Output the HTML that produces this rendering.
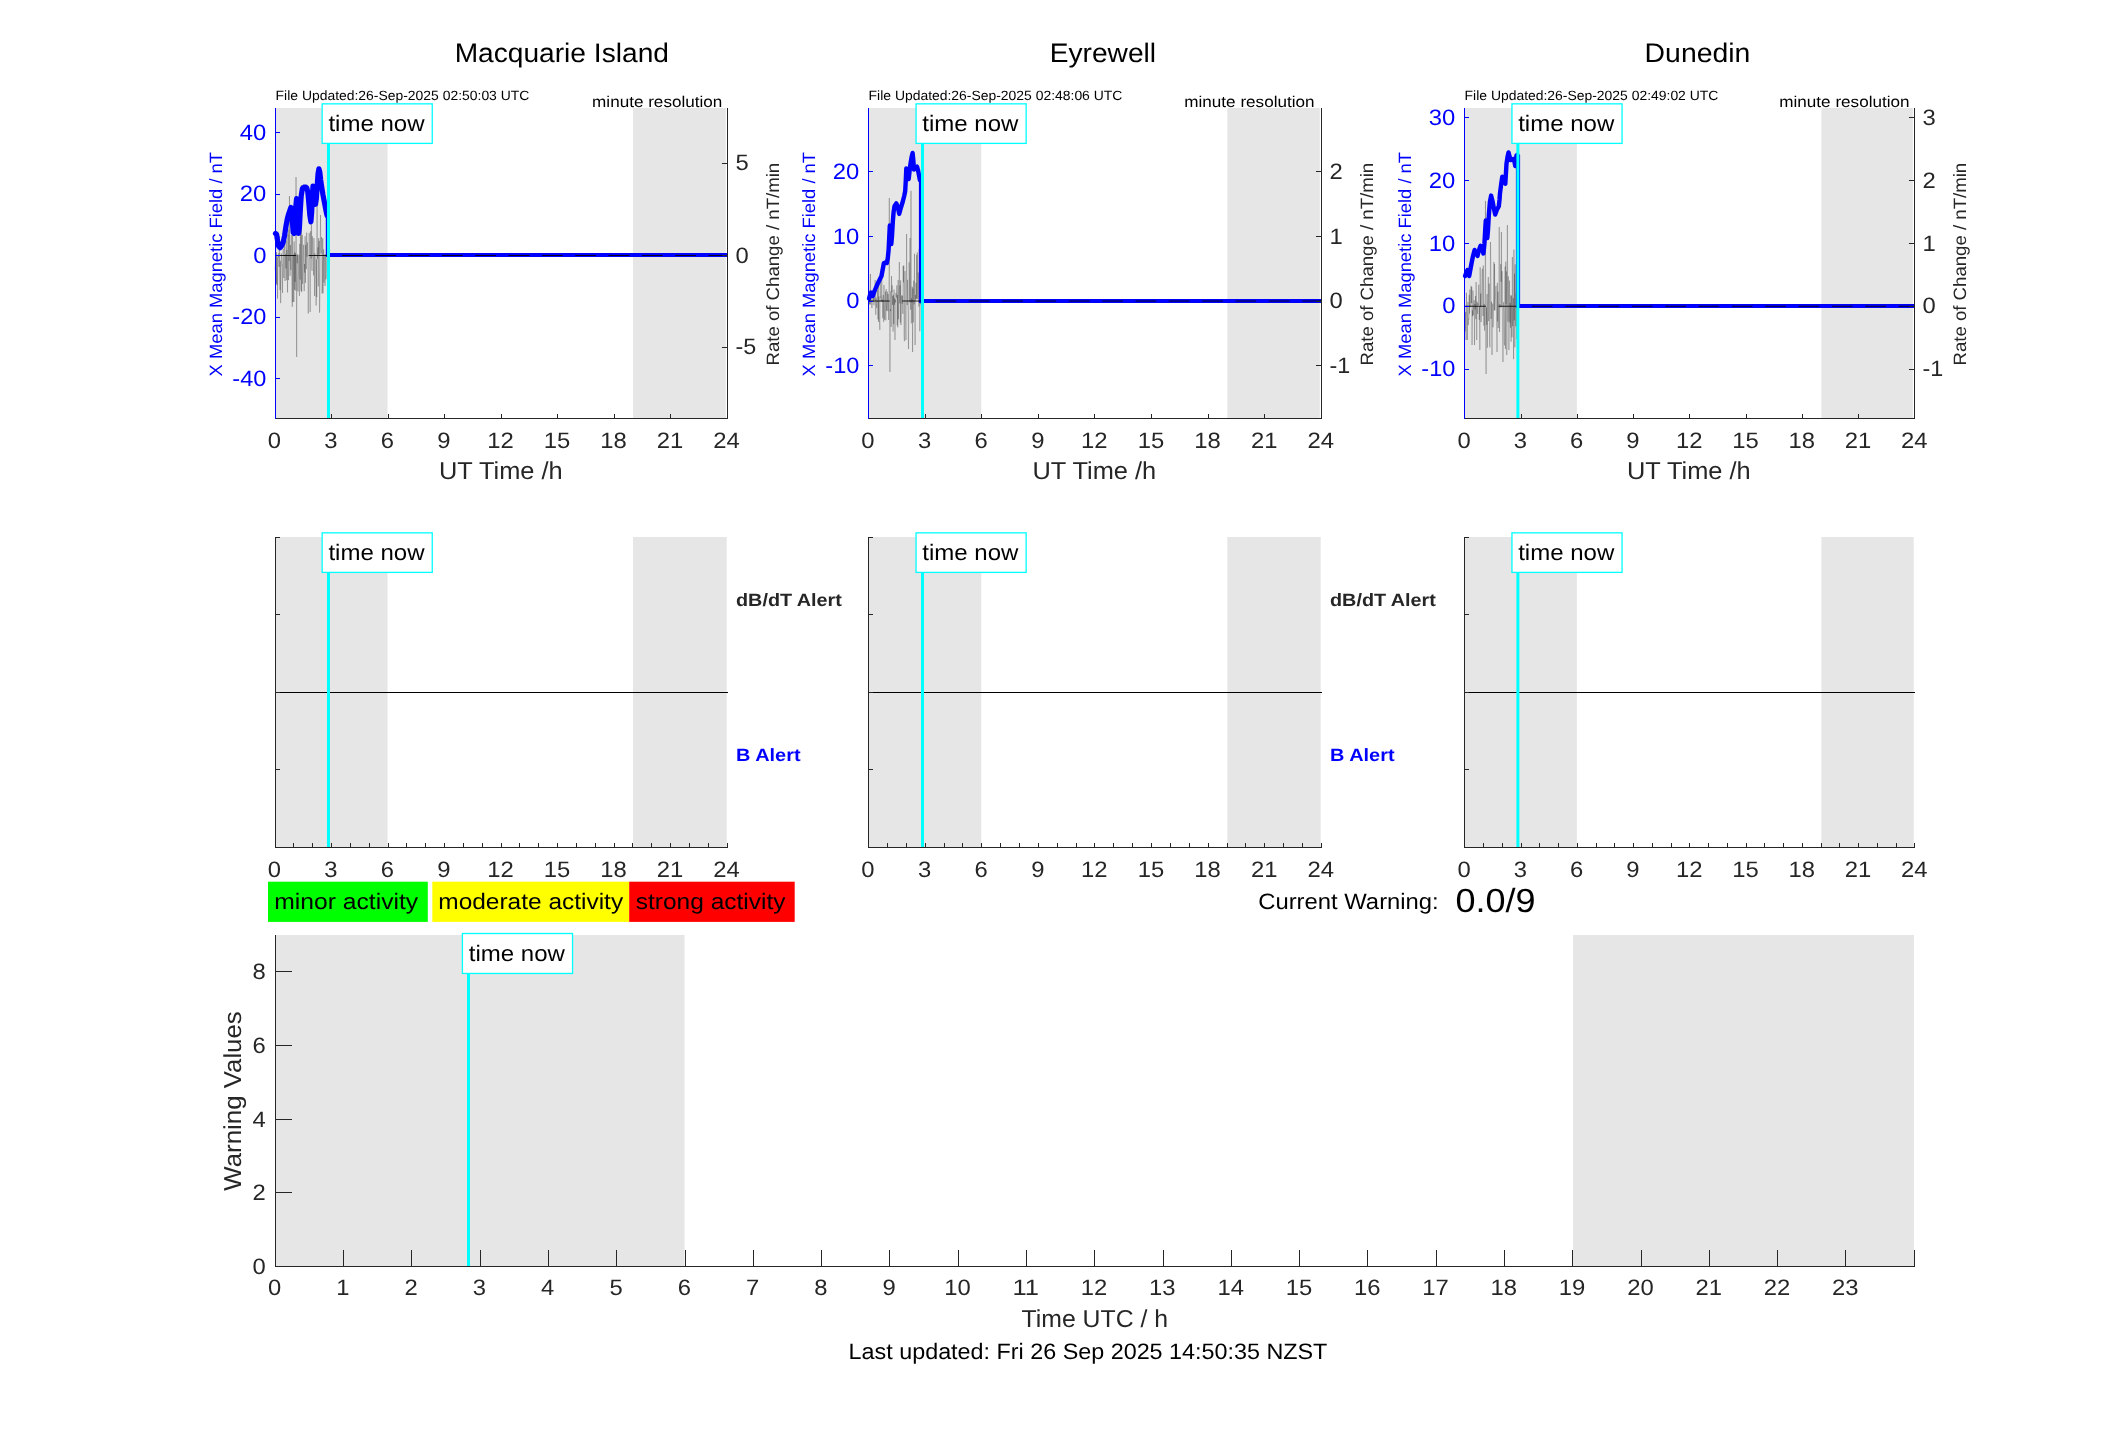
<!DOCTYPE html>
<html><head><meta charset="utf-8"><title>Magnetometer warning plots</title>
<style>html,body{margin:0;padding:0;background:#fff;}body{width:2117px;height:1437px;overflow:hidden;}svg{display:block;will-change:transform;font-family:"Liberation Sans",sans-serif;}text{white-space:pre;text-rendering:geometricPrecision;}</style></head>
<body>
<svg width="2117" height="1437" viewBox="0 0 2117 1437">
<rect x="0" y="0" width="2117" height="1437" fill="#ffffff"/>
<rect x="276.00" y="108.00" width="111.50" height="310.00" fill="#e6e6e6"/>
<rect x="633.08" y="108.00" width="92.72" height="310.00" fill="#e6e6e6"/>
<polyline points="275.00,270.50 275.31,266.38 275.63,245.39 275.94,268.37 276.26,283.77 276.57,252.15 276.88,285.10 277.20,256.67 277.51,298.50 277.82,273.84 278.14,254.84 278.45,256.81 278.77,253.10 279.08,267.02 279.39,236.08 279.71,276.16 280.02,290.00 280.34,260.74 280.65,303.15 280.96,281.22 281.28,253.26 281.59,257.02 281.91,265.27 282.22,264.80 282.53,292.94 282.85,253.51 283.16,248.66 283.48,250.35 283.79,278.06 284.10,261.08 284.42,251.64 284.73,239.49 285.04,281.00 285.36,254.73 285.67,253.87 285.99,268.42 286.30,240.48 286.61,280.11 286.93,249.83 287.24,261.32 287.56,292.47 287.87,234.24 288.18,266.06 288.50,280.07 288.81,229.38 289.12,260.95 289.44,196.00 289.75,254.67 290.07,275.88 290.38,244.96 290.69,268.51 291.01,269.97 291.32,235.05 291.64,258.27 291.95,291.75 292.26,306.80 292.58,231.71 292.89,302.13 293.21,275.73 293.52,254.50 293.83,302.00 294.15,241.48 294.46,289.73 294.77,252.32 295.09,281.79 295.40,253.28 295.72,290.58 296.03,177.00 296.34,253.58 296.66,357.00 296.97,254.72 297.29,263.21 297.60,254.30 297.91,291.40 298.23,275.97 298.54,272.01 298.86,254.81 299.17,292.04 299.48,295.89 299.80,243.84 300.11,279.72 300.43,228.88 300.74,269.86 301.05,290.96 301.37,185.00 301.68,292.17 301.99,242.17 302.31,234.85 302.62,283.84 302.94,271.44 303.25,263.51 303.56,244.72 303.88,274.00 304.19,291.12 304.51,263.97 304.82,272.57 305.13,236.25 305.45,283.03 305.76,244.96 306.07,259.51 306.39,269.10 306.70,232.64 307.02,256.70 307.33,242.42 307.64,258.39 307.96,279.06 308.27,313.50 308.59,279.87 308.90,249.60 309.21,232.92 309.53,250.62 309.84,262.60 310.16,312.00 310.47,235.81 310.78,231.26 311.10,258.63 311.41,192.00 311.73,266.83 312.04,270.86 312.35,236.22 312.67,249.09 312.98,256.92 313.29,256.98 313.61,275.45 313.92,238.18 314.24,258.06 314.55,296.00 314.86,253.16 315.18,257.00 315.49,268.36 315.81,280.62 316.12,305.61 316.43,259.27 316.75,297.00 317.06,203.00 317.38,258.76 317.69,251.39 318.00,247.33 318.32,286.41 318.63,238.16 318.94,254.60 319.26,240.83 319.57,312.70 319.89,296.99 320.20,245.95 320.51,215.00 320.83,248.81 321.14,253.57 321.46,237.09 321.77,241.01 322.08,293.54 322.40,285.00 322.71,238.20 323.02,293.36 323.34,262.48 323.65,249.36 323.97,282.67 324.28,254.82 324.59,254.71 324.91,286.00 325.22,283.43 325.54,254.15 325.85,279.30 326.16,277.27 326.48,267.49 326.79,256.95 327.11,247.16 327.42,279.67" fill="none" stroke="#000" stroke-opacity="0.42" stroke-width="0.5" stroke-linejoin="round"/>
<polyline points="275.50,233.50 276.60,234.50 277.60,241.00 278.60,246.00 280.00,247.70 281.60,246.00 283.00,243.00 284.50,236.00 286.00,226.00 287.30,219.00 288.60,214.00 289.80,210.50 290.90,207.50 291.60,210.00 292.40,222.00 293.20,232.50 294.00,233.50 294.80,222.00 295.60,208.00 296.60,198.50 297.40,206.00 298.00,222.00 298.60,233.50 299.40,228.00 300.20,212.00 301.20,196.00 302.40,188.50 304.00,187.20 305.60,187.00 306.80,187.80 307.80,192.00 308.80,203.00 309.80,215.00 310.90,221.80 311.70,212.00 312.40,196.00 313.00,186.00 313.80,190.00 314.60,199.00 315.50,204.30 316.30,199.00 317.20,186.00 318.00,174.00 318.90,168.80 319.80,172.00 320.70,180.00 321.80,187.60 323.00,195.00 324.30,201.80 325.40,207.50 326.40,212.70 327.10,215.50" fill="none" stroke="#0000ff" stroke-width="5.2" stroke-linejoin="round" stroke-linecap="round"/>
<rect x="325.80" y="215.50" width="4.20" height="41.50" fill="#0000ff"/>
<rect x="325.80" y="253.00" width="401.70" height="4.00" fill="#0000ff" shape-rendering="crispEdges"/>
<line x1="275.30" y1="255.40" x2="727.00" y2="255.40" stroke="#000" stroke-opacity="0.85" stroke-width="1.05" stroke-dasharray="20.83 12.5"/>
<rect x="275.00" y="418.00" width="453.00" height="1.00" fill="#262626" shape-rendering="crispEdges"/>
<rect x="727.00" y="108.00" width="1.00" height="311.00" fill="#262626" shape-rendering="crispEdges"/>
<rect x="275.00" y="414.00" width="1.00" height="4.00" fill="#262626" shape-rendering="crispEdges"/>
<text x="267.77" y="448.20" font-size="22.29" textLength="13.25" lengthAdjust="spacingAndGlyphs" fill="#262626">0</text>
<rect x="331.00" y="414.00" width="1.00" height="4.00" fill="#262626" shape-rendering="crispEdges"/>
<text x="324.27" y="448.20" font-size="22.29" textLength="13.25" lengthAdjust="spacingAndGlyphs" fill="#262626">3</text>
<rect x="388.00" y="414.00" width="1.00" height="4.00" fill="#262626" shape-rendering="crispEdges"/>
<text x="380.77" y="448.20" font-size="22.29" textLength="13.25" lengthAdjust="spacingAndGlyphs" fill="#262626">6</text>
<rect x="444.00" y="414.00" width="1.00" height="4.00" fill="#262626" shape-rendering="crispEdges"/>
<text x="437.27" y="448.20" font-size="22.29" textLength="13.25" lengthAdjust="spacingAndGlyphs" fill="#262626">9</text>
<rect x="501.00" y="414.00" width="1.00" height="4.00" fill="#262626" shape-rendering="crispEdges"/>
<text x="487.15" y="448.20" font-size="22.29" textLength="26.51" lengthAdjust="spacingAndGlyphs" fill="#262626">12</text>
<rect x="557.00" y="414.00" width="1.00" height="4.00" fill="#262626" shape-rendering="crispEdges"/>
<text x="543.65" y="448.20" font-size="22.29" textLength="26.51" lengthAdjust="spacingAndGlyphs" fill="#262626">15</text>
<rect x="614.00" y="414.00" width="1.00" height="4.00" fill="#262626" shape-rendering="crispEdges"/>
<text x="600.15" y="448.20" font-size="22.29" textLength="26.51" lengthAdjust="spacingAndGlyphs" fill="#262626">18</text>
<rect x="670.00" y="414.00" width="1.00" height="4.00" fill="#262626" shape-rendering="crispEdges"/>
<text x="656.65" y="448.20" font-size="22.29" textLength="26.51" lengthAdjust="spacingAndGlyphs" fill="#262626">21</text>
<rect x="727.00" y="414.00" width="1.00" height="4.00" fill="#262626" shape-rendering="crispEdges"/>
<text x="713.15" y="448.20" font-size="22.29" textLength="26.51" lengthAdjust="spacingAndGlyphs" fill="#262626">24</text>
<rect x="275.00" y="108.00" width="1.00" height="311.00" fill="#0000ff" shape-rendering="crispEdges"/>
<rect x="276.00" y="132.00" width="4.00" height="1.00" fill="#0000ff"/>
<text x="239.89" y="139.60" font-size="22.29" textLength="26.51" lengthAdjust="spacingAndGlyphs" fill="#0000ff">40</text>
<rect x="276.00" y="194.00" width="4.00" height="1.00" fill="#0000ff"/>
<text x="239.89" y="201.10" font-size="22.29" textLength="26.51" lengthAdjust="spacingAndGlyphs" fill="#0000ff">20</text>
<rect x="276.00" y="255.00" width="4.00" height="1.00" fill="#0000ff"/>
<text x="253.15" y="262.60" font-size="22.29" textLength="13.25" lengthAdjust="spacingAndGlyphs" fill="#0000ff">0</text>
<rect x="276.00" y="317.00" width="4.00" height="1.00" fill="#0000ff"/>
<text x="232.37" y="324.10" font-size="22.29" textLength="34.03" lengthAdjust="spacingAndGlyphs" fill="#0000ff">-20</text>
<rect x="276.00" y="378.00" width="4.00" height="1.00" fill="#0000ff"/>
<text x="232.37" y="385.60" font-size="22.29" textLength="34.03" lengthAdjust="spacingAndGlyphs" fill="#0000ff">-40</text>
<rect x="722.00" y="163.00" width="5.00" height="1.00" fill="#262626" shape-rendering="crispEdges"/>
<text x="735.40" y="169.70" font-size="22.29" textLength="13.25" lengthAdjust="spacingAndGlyphs" fill="#262626">5</text>
<rect x="722.00" y="255.00" width="5.00" height="1.00" fill="#262626" shape-rendering="crispEdges"/>
<text x="735.40" y="262.80" font-size="22.29" textLength="13.25" lengthAdjust="spacingAndGlyphs" fill="#262626">0</text>
<rect x="722.00" y="347.00" width="5.00" height="1.00" fill="#262626" shape-rendering="crispEdges"/>
<text x="735.40" y="354.20" font-size="22.29" textLength="20.77" lengthAdjust="spacingAndGlyphs" fill="#262626">-5</text>
<rect x="326.97" y="138.00" width="3.00" height="280.00" fill="#00ffff"/>
<rect x="322.15" y="103.85" width="110.1" height="39.55" fill="#fff" stroke="#00ffff" stroke-width="1.3"/>
<text x="328.40" y="130.60" font-size="22.29" textLength="96.10" lengthAdjust="spacingAndGlyphs" fill="#000">time now</text>
<text x="438.96" y="479.00" font-size="24.52" textLength="123.67" lengthAdjust="spacingAndGlyphs" fill="#262626">UT Time /h</text>
<text transform="translate(222.00,264.20) rotate(-90)" x="-112.23" y="0" font-size="17.83" textLength="224.46" lengthAdjust="spacingAndGlyphs" fill="#0000ff">X Mean Magnetic Field / nT</text>
<text transform="translate(779.10,264.20) rotate(-90)" x="-101.34" y="0" font-size="17.83" textLength="202.69" lengthAdjust="spacingAndGlyphs" fill="#262626">Rate of Change / nT/min</text>
<text x="275.60" y="100.00" font-size="13.38" textLength="253.74" lengthAdjust="spacingAndGlyphs" fill="#000">File Updated:26-Sep-2025 02:50:03 UTC</text>
<text x="592.10" y="106.80" font-size="15.60" textLength="130.26" lengthAdjust="spacingAndGlyphs" fill="#000">minute resolution</text>
<text x="454.65" y="62.00" font-size="26.75" textLength="214.30" lengthAdjust="spacingAndGlyphs" fill="#000">Macquarie Island</text>
<rect x="869.00" y="108.00" width="112.27" height="310.00" fill="#e6e6e6"/>
<rect x="1227.33" y="108.00" width="92.47" height="310.00" fill="#e6e6e6"/>
<polyline points="868.55,287.99 868.86,300.52 869.18,304.19 869.49,300.33 869.81,304.57 870.12,297.22 870.44,274.00 870.75,304.42 871.07,291.78 871.38,301.47 871.69,307.39 872.01,308.11 872.32,303.87 872.64,303.98 872.95,292.72 873.27,301.60 873.58,291.11 873.90,305.35 874.21,302.17 874.53,298.38 874.84,299.69 875.15,280.00 875.47,298.87 875.78,314.79 876.10,297.55 876.41,303.57 876.73,307.92 877.04,300.20 877.36,289.86 877.67,299.12 877.98,319.40 878.30,281.38 878.61,322.00 878.93,296.35 879.24,316.23 879.56,322.63 879.87,330.00 880.19,278.30 880.50,297.38 880.82,296.80 881.13,301.76 881.44,299.34 881.76,278.80 882.07,301.92 882.39,299.56 882.70,318.14 883.02,295.59 883.33,295.02 883.65,321.93 883.96,285.00 884.27,306.42 884.59,319.82 884.90,303.37 885.22,295.50 885.53,291.58 885.85,320.36 886.16,289.03 886.48,310.74 886.79,303.64 887.11,301.92 887.42,291.56 887.73,311.12 888.05,294.06 888.36,300.28 888.68,320.02 888.99,278.01 889.31,198.00 889.62,293.78 889.94,372.00 890.25,309.22 890.56,311.14 890.88,291.21 891.19,326.92 891.51,276.06 891.82,291.91 892.14,285.35 892.45,304.85 892.77,295.87 893.08,331.58 893.40,294.83 893.71,324.04 894.02,289.47 894.34,304.74 894.65,298.33 894.97,340.00 895.28,299.64 895.60,302.47 895.91,292.87 896.23,297.48 896.54,297.68 896.85,285.39 897.17,325.33 897.48,294.96 897.80,327.38 898.11,279.91 898.43,319.26 898.74,299.80 899.06,283.70 899.37,262.00 899.69,303.39 900.00,285.43 900.31,322.70 900.63,280.39 900.94,325.14 901.26,316.59 901.57,295.44 901.89,302.39 902.20,303.91 902.52,295.61 902.83,313.93 903.14,266.00 903.46,282.34 903.77,265.36 904.09,334.12 904.40,341.27 904.72,293.48 905.03,271.08 905.35,309.11 905.66,326.59 905.98,340.00 906.29,302.24 906.60,234.00 906.92,284.39 907.23,305.04 907.55,279.82 907.86,303.62 908.18,317.28 908.49,349.00 908.81,310.83 909.12,262.35 909.43,279.71 909.75,302.35 910.06,238.00 910.38,299.68 910.69,309.72 911.01,190.80 911.32,323.42 911.64,298.29 911.95,302.40 912.27,286.70 912.58,352.00 912.89,288.51 913.21,322.45 913.52,280.68 913.84,281.41 914.15,304.39 914.47,253.73 914.78,306.64 915.10,345.00 915.41,294.98 915.72,299.74 916.04,282.86 916.35,298.37 916.67,254.92 916.98,298.97 917.30,252.43 917.61,280.00 917.93,299.30 918.24,272.48 918.56,278.36 918.87,306.61 919.18,248.88 919.50,259.46 919.81,331.29 920.13,302.65 920.44,304.25 920.76,299.42 921.07,298.37" fill="none" stroke="#000" stroke-opacity="0.42" stroke-width="0.5" stroke-linejoin="round"/>
<polyline points="869.10,298.40 870.00,295.00 870.90,292.50 871.80,295.50 872.80,296.00 874.50,291.00 877.40,284.30 879.50,280.00 881.50,276.00 882.60,270.00 883.90,263.00 885.30,262.50 886.80,263.00 887.80,258.00 888.60,250.00 889.20,238.00 889.80,225.50 890.60,232.00 891.30,244.00 892.00,236.00 892.80,222.00 893.60,212.00 894.50,206.20 896.30,203.30 897.80,207.00 899.20,213.90 900.80,208.00 902.80,201.50 904.20,196.00 905.20,191.00 905.80,180.00 906.30,168.40 907.40,173.00 908.70,179.00 909.60,171.00 910.50,163.60 911.60,157.00 912.60,153.00 913.30,160.00 914.00,169.60 915.40,168.00 917.00,166.60 918.00,170.00 918.80,174.30 919.90,180.20" fill="none" stroke="#0000ff" stroke-width="4.4" stroke-linejoin="round" stroke-linecap="round"/>
<rect x="918.90" y="180.20" width="4.20" height="122.80" fill="#0000ff"/>
<rect x="918.90" y="299.00" width="402.60" height="4.00" fill="#0000ff" shape-rendering="crispEdges"/>
<line x1="868.85" y1="301.00" x2="1321.00" y2="301.00" stroke="#000" stroke-opacity="0.85" stroke-width="1.05" stroke-dasharray="20.83 12.5"/>
<rect x="868.00" y="418.00" width="454.00" height="1.00" fill="#262626" shape-rendering="crispEdges"/>
<rect x="1321.00" y="108.00" width="1.00" height="311.00" fill="#262626" shape-rendering="crispEdges"/>
<rect x="868.00" y="414.00" width="1.00" height="4.00" fill="#262626" shape-rendering="crispEdges"/>
<text x="861.32" y="448.20" font-size="22.29" textLength="13.25" lengthAdjust="spacingAndGlyphs" fill="#262626">0</text>
<rect x="925.00" y="414.00" width="1.00" height="4.00" fill="#262626" shape-rendering="crispEdges"/>
<text x="917.93" y="448.20" font-size="22.29" textLength="13.25" lengthAdjust="spacingAndGlyphs" fill="#262626">3</text>
<rect x="981.00" y="414.00" width="1.00" height="4.00" fill="#262626" shape-rendering="crispEdges"/>
<text x="974.54" y="448.20" font-size="22.29" textLength="13.25" lengthAdjust="spacingAndGlyphs" fill="#262626">6</text>
<rect x="1038.00" y="414.00" width="1.00" height="4.00" fill="#262626" shape-rendering="crispEdges"/>
<text x="1031.15" y="448.20" font-size="22.29" textLength="13.25" lengthAdjust="spacingAndGlyphs" fill="#262626">9</text>
<rect x="1094.00" y="414.00" width="1.00" height="4.00" fill="#262626" shape-rendering="crispEdges"/>
<text x="1081.14" y="448.20" font-size="22.29" textLength="26.51" lengthAdjust="spacingAndGlyphs" fill="#262626">12</text>
<rect x="1151.00" y="414.00" width="1.00" height="4.00" fill="#262626" shape-rendering="crispEdges"/>
<text x="1137.75" y="448.20" font-size="22.29" textLength="26.51" lengthAdjust="spacingAndGlyphs" fill="#262626">15</text>
<rect x="1208.00" y="414.00" width="1.00" height="4.00" fill="#262626" shape-rendering="crispEdges"/>
<text x="1194.36" y="448.20" font-size="22.29" textLength="26.51" lengthAdjust="spacingAndGlyphs" fill="#262626">18</text>
<rect x="1264.00" y="414.00" width="1.00" height="4.00" fill="#262626" shape-rendering="crispEdges"/>
<text x="1250.97" y="448.20" font-size="22.29" textLength="26.51" lengthAdjust="spacingAndGlyphs" fill="#262626">21</text>
<rect x="1321.00" y="414.00" width="1.00" height="4.00" fill="#262626" shape-rendering="crispEdges"/>
<text x="1307.58" y="448.20" font-size="22.29" textLength="26.51" lengthAdjust="spacingAndGlyphs" fill="#262626">24</text>
<rect x="868.00" y="108.00" width="1.00" height="311.00" fill="#0000ff" shape-rendering="crispEdges"/>
<rect x="869.00" y="171.00" width="4.00" height="1.00" fill="#0000ff"/>
<text x="832.89" y="178.90" font-size="22.29" textLength="26.51" lengthAdjust="spacingAndGlyphs" fill="#0000ff">20</text>
<rect x="869.00" y="236.00" width="4.00" height="1.00" fill="#0000ff"/>
<text x="832.89" y="243.50" font-size="22.29" textLength="26.51" lengthAdjust="spacingAndGlyphs" fill="#0000ff">10</text>
<rect x="869.00" y="301.00" width="4.00" height="1.00" fill="#0000ff"/>
<text x="846.15" y="308.10" font-size="22.29" textLength="13.25" lengthAdjust="spacingAndGlyphs" fill="#0000ff">0</text>
<rect x="869.00" y="365.00" width="4.00" height="1.00" fill="#0000ff"/>
<text x="825.37" y="372.70" font-size="22.29" textLength="34.03" lengthAdjust="spacingAndGlyphs" fill="#0000ff">-10</text>
<rect x="1316.00" y="171.00" width="5.00" height="1.00" fill="#262626" shape-rendering="crispEdges"/>
<text x="1329.40" y="178.90" font-size="22.29" textLength="13.25" lengthAdjust="spacingAndGlyphs" fill="#262626">2</text>
<rect x="1316.00" y="236.00" width="5.00" height="1.00" fill="#262626" shape-rendering="crispEdges"/>
<text x="1329.40" y="243.50" font-size="22.29" textLength="13.25" lengthAdjust="spacingAndGlyphs" fill="#262626">1</text>
<rect x="1316.00" y="301.00" width="5.00" height="1.00" fill="#262626" shape-rendering="crispEdges"/>
<text x="1329.40" y="308.10" font-size="22.29" textLength="13.25" lengthAdjust="spacingAndGlyphs" fill="#262626">0</text>
<rect x="1316.00" y="365.00" width="5.00" height="1.00" fill="#262626" shape-rendering="crispEdges"/>
<text x="1329.40" y="372.70" font-size="22.29" textLength="20.77" lengthAdjust="spacingAndGlyphs" fill="#262626">-1</text>
<rect x="921.00" y="138.00" width="3.00" height="280.00" fill="#00ffff"/>
<rect x="916.05" y="103.85" width="110.1" height="39.55" fill="#fff" stroke="#00ffff" stroke-width="1.3"/>
<text x="922.30" y="130.60" font-size="22.29" textLength="96.10" lengthAdjust="spacingAndGlyphs" fill="#000">time now</text>
<text x="1032.46" y="479.00" font-size="24.52" textLength="123.67" lengthAdjust="spacingAndGlyphs" fill="#262626">UT Time /h</text>
<text transform="translate(815.00,264.20) rotate(-90)" x="-112.23" y="0" font-size="17.83" textLength="224.46" lengthAdjust="spacingAndGlyphs" fill="#0000ff">X Mean Magnetic Field / nT</text>
<text transform="translate(1373.10,264.20) rotate(-90)" x="-101.34" y="0" font-size="17.83" textLength="202.69" lengthAdjust="spacingAndGlyphs" fill="#262626">Rate of Change / nT/min</text>
<text x="868.60" y="100.00" font-size="13.38" textLength="253.74" lengthAdjust="spacingAndGlyphs" fill="#000">File Updated:26-Sep-2025 02:48:06 UTC</text>
<text x="1184.30" y="106.80" font-size="15.60" textLength="130.26" lengthAdjust="spacingAndGlyphs" fill="#000">minute resolution</text>
<text x="1049.77" y="62.00" font-size="26.75" textLength="106.26" lengthAdjust="spacingAndGlyphs" fill="#000">Eyrewell</text>
<rect x="1465.00" y="108.00" width="111.85" height="310.00" fill="#e6e6e6"/>
<rect x="1821.35" y="108.00" width="91.45" height="310.00" fill="#e6e6e6"/>
<polyline points="1464.85,304.86 1465.16,331.47 1465.47,316.57 1465.79,312.04 1466.10,340.00 1466.41,292.71 1466.72,312.37 1467.04,314.34 1467.35,340.05 1467.66,307.25 1467.97,301.98 1468.29,325.14 1468.60,318.83 1468.91,319.30 1469.22,294.99 1469.54,313.73 1469.85,289.58 1470.16,304.91 1470.47,306.94 1470.79,304.05 1471.10,285.79 1471.41,303.15 1471.72,287.02 1472.04,345.00 1472.35,310.31 1472.66,316.24 1472.97,290.54 1473.29,315.15 1473.60,305.08 1473.91,304.71 1474.22,300.28 1474.54,345.04 1474.85,303.97 1475.16,309.62 1475.47,295.94 1475.79,319.11 1476.10,282.00 1476.41,297.40 1476.72,340.04 1477.04,301.67 1477.35,307.14 1477.66,313.95 1477.97,303.29 1478.29,304.91 1478.60,284.80 1478.91,284.89 1479.22,319.89 1479.54,307.10 1479.85,350.00 1480.16,267.33 1480.47,307.02 1480.79,293.50 1481.10,322.13 1481.41,299.93 1481.72,288.53 1482.04,273.40 1482.35,268.73 1482.66,294.40 1482.97,316.08 1483.29,265.52 1483.60,290.31 1483.91,325.66 1484.22,303.88 1484.54,330.55 1484.85,322.89 1485.16,280.81 1485.47,200.90 1485.79,345.61 1486.10,374.00 1486.41,307.41 1486.72,324.70 1487.04,294.12 1487.35,347.73 1487.66,304.90 1487.97,299.48 1488.29,276.97 1488.60,321.10 1488.91,309.76 1489.22,283.61 1489.54,337.65 1489.85,347.35 1490.16,323.06 1490.47,242.00 1490.79,261.03 1491.10,318.99 1491.41,301.64 1491.72,335.74 1492.04,355.00 1492.35,318.46 1492.66,303.52 1492.97,327.37 1493.29,323.08 1493.60,307.53 1493.91,262.00 1494.22,310.48 1494.54,264.09 1494.85,310.36 1495.16,300.38 1495.47,296.41 1495.79,286.73 1496.10,285.85 1496.41,307.43 1496.72,326.04 1497.04,352.00 1497.35,282.78 1497.66,321.59 1497.97,291.63 1498.29,328.05 1498.60,303.49 1498.91,301.19 1499.22,227.00 1499.54,331.96 1499.85,304.15 1500.16,307.47 1500.47,303.91 1500.79,264.11 1501.10,281.81 1501.41,232.00 1501.72,307.36 1502.04,271.08 1502.35,313.94 1502.66,329.71 1502.97,362.00 1503.29,308.82 1503.60,302.19 1503.91,314.22 1504.22,341.83 1504.54,345.37 1504.85,280.66 1505.16,266.47 1505.47,348.96 1505.79,261.55 1506.10,304.35 1506.41,271.39 1506.72,355.07 1507.04,341.47 1507.35,225.00 1507.66,284.75 1507.97,321.70 1508.29,276.40 1508.60,301.91 1508.91,350.00 1509.22,321.24 1509.54,280.58 1509.85,322.56 1510.16,302.92 1510.47,327.69 1510.79,295.25 1511.10,341.68 1511.41,295.60 1511.72,310.89 1512.04,337.23 1512.35,257.00 1512.66,326.04 1512.97,310.48 1513.29,298.06 1513.60,359.16 1513.91,249.62 1514.22,320.42 1514.54,273.66 1514.85,347.42 1515.16,264.37 1515.47,295.65 1515.79,326.43 1516.10,293.72 1516.41,296.80 1516.72,339.38 1517.04,299.94" fill="none" stroke="#000" stroke-opacity="0.42" stroke-width="0.5" stroke-linejoin="round"/>
<polyline points="1465.10,276.00 1466.30,272.50 1467.50,270.00 1468.40,273.00 1469.20,276.00 1470.30,270.00 1471.60,263.00 1473.00,256.00 1474.60,250.00 1476.00,252.50 1477.50,255.90 1479.00,250.00 1480.50,245.80 1482.00,249.00 1483.40,253.50 1484.40,244.00 1485.20,230.00 1485.80,220.40 1486.60,228.00 1487.30,238.00 1488.00,230.00 1488.90,214.00 1489.90,202.00 1491.10,195.60 1492.50,201.00 1493.90,208.50 1495.20,214.50 1496.80,210.00 1498.80,206.20 1499.50,200.00 1500.00,193.20 1501.20,184.00 1502.30,176.70 1503.80,180.00 1505.30,183.80 1505.90,174.00 1506.50,163.60 1507.50,157.00 1508.50,152.40 1509.50,156.00 1510.60,160.10 1512.00,159.30 1513.60,158.90 1514.50,162.00 1515.30,166.00 1515.90,160.00 1516.50,155.40 1517.20,154.80" fill="none" stroke="#0000ff" stroke-width="4.4" stroke-linejoin="round" stroke-linecap="round"/>
<rect x="1515.90" y="154.80" width="4.20" height="153.20" fill="#0000ff"/>
<rect x="1515.90" y="304.00" width="398.60" height="4.00" fill="#0000ff" shape-rendering="crispEdges"/>
<line x1="1465.15" y1="306.30" x2="1914.00" y2="306.30" stroke="#000" stroke-opacity="0.85" stroke-width="1.05" stroke-dasharray="20.83 12.5"/>
<rect x="1464.00" y="418.00" width="451.00" height="1.00" fill="#262626" shape-rendering="crispEdges"/>
<rect x="1914.00" y="108.00" width="1.00" height="311.00" fill="#262626" shape-rendering="crispEdges"/>
<rect x="1464.00" y="414.00" width="1.00" height="4.00" fill="#262626" shape-rendering="crispEdges"/>
<text x="1457.62" y="448.20" font-size="22.29" textLength="13.25" lengthAdjust="spacingAndGlyphs" fill="#262626">0</text>
<rect x="1521.00" y="414.00" width="1.00" height="4.00" fill="#262626" shape-rendering="crispEdges"/>
<text x="1513.87" y="448.20" font-size="22.29" textLength="13.25" lengthAdjust="spacingAndGlyphs" fill="#262626">3</text>
<rect x="1577.00" y="414.00" width="1.00" height="4.00" fill="#262626" shape-rendering="crispEdges"/>
<text x="1570.12" y="448.20" font-size="22.29" textLength="13.25" lengthAdjust="spacingAndGlyphs" fill="#262626">6</text>
<rect x="1633.00" y="414.00" width="1.00" height="4.00" fill="#262626" shape-rendering="crispEdges"/>
<text x="1626.37" y="448.20" font-size="22.29" textLength="13.25" lengthAdjust="spacingAndGlyphs" fill="#262626">9</text>
<rect x="1689.00" y="414.00" width="1.00" height="4.00" fill="#262626" shape-rendering="crispEdges"/>
<text x="1676.00" y="448.20" font-size="22.29" textLength="26.51" lengthAdjust="spacingAndGlyphs" fill="#262626">12</text>
<rect x="1746.00" y="414.00" width="1.00" height="4.00" fill="#262626" shape-rendering="crispEdges"/>
<text x="1732.25" y="448.20" font-size="22.29" textLength="26.51" lengthAdjust="spacingAndGlyphs" fill="#262626">15</text>
<rect x="1802.00" y="414.00" width="1.00" height="4.00" fill="#262626" shape-rendering="crispEdges"/>
<text x="1788.50" y="448.20" font-size="22.29" textLength="26.51" lengthAdjust="spacingAndGlyphs" fill="#262626">18</text>
<rect x="1858.00" y="414.00" width="1.00" height="4.00" fill="#262626" shape-rendering="crispEdges"/>
<text x="1844.75" y="448.20" font-size="22.29" textLength="26.51" lengthAdjust="spacingAndGlyphs" fill="#262626">21</text>
<rect x="1914.00" y="414.00" width="1.00" height="4.00" fill="#262626" shape-rendering="crispEdges"/>
<text x="1901.00" y="448.20" font-size="22.29" textLength="26.51" lengthAdjust="spacingAndGlyphs" fill="#262626">24</text>
<rect x="1464.00" y="108.00" width="1.00" height="311.00" fill="#0000ff" shape-rendering="crispEdges"/>
<rect x="1465.00" y="117.00" width="4.00" height="1.00" fill="#0000ff"/>
<text x="1428.89" y="124.60" font-size="22.29" textLength="26.51" lengthAdjust="spacingAndGlyphs" fill="#0000ff">30</text>
<rect x="1465.00" y="180.00" width="4.00" height="1.00" fill="#0000ff"/>
<text x="1428.89" y="187.60" font-size="22.29" textLength="26.51" lengthAdjust="spacingAndGlyphs" fill="#0000ff">20</text>
<rect x="1465.00" y="243.00" width="4.00" height="1.00" fill="#0000ff"/>
<text x="1428.89" y="250.60" font-size="22.29" textLength="26.51" lengthAdjust="spacingAndGlyphs" fill="#0000ff">10</text>
<rect x="1465.00" y="306.00" width="4.00" height="1.00" fill="#0000ff"/>
<text x="1442.15" y="313.10" font-size="22.29" textLength="13.25" lengthAdjust="spacingAndGlyphs" fill="#0000ff">0</text>
<rect x="1465.00" y="369.00" width="4.00" height="1.00" fill="#0000ff"/>
<text x="1421.37" y="376.10" font-size="22.29" textLength="34.03" lengthAdjust="spacingAndGlyphs" fill="#0000ff">-10</text>
<rect x="1909.00" y="117.00" width="5.00" height="1.00" fill="#262626" shape-rendering="crispEdges"/>
<text x="1922.40" y="124.60" font-size="22.29" textLength="13.25" lengthAdjust="spacingAndGlyphs" fill="#262626">3</text>
<rect x="1909.00" y="180.00" width="5.00" height="1.00" fill="#262626" shape-rendering="crispEdges"/>
<text x="1922.40" y="187.60" font-size="22.29" textLength="13.25" lengthAdjust="spacingAndGlyphs" fill="#262626">2</text>
<rect x="1909.00" y="243.00" width="5.00" height="1.00" fill="#262626" shape-rendering="crispEdges"/>
<text x="1922.40" y="250.60" font-size="22.29" textLength="13.25" lengthAdjust="spacingAndGlyphs" fill="#262626">1</text>
<rect x="1909.00" y="306.00" width="5.00" height="1.00" fill="#262626" shape-rendering="crispEdges"/>
<text x="1922.40" y="313.10" font-size="22.29" textLength="13.25" lengthAdjust="spacingAndGlyphs" fill="#262626">0</text>
<rect x="1909.00" y="369.00" width="5.00" height="1.00" fill="#262626" shape-rendering="crispEdges"/>
<text x="1922.40" y="376.10" font-size="22.29" textLength="20.77" lengthAdjust="spacingAndGlyphs" fill="#262626">-1</text>
<rect x="1516.40" y="138.00" width="3.00" height="280.00" fill="#00ffff"/>
<rect x="1511.95" y="103.85" width="110.1" height="39.55" fill="#fff" stroke="#00ffff" stroke-width="1.3"/>
<text x="1518.20" y="130.60" font-size="22.29" textLength="96.10" lengthAdjust="spacingAndGlyphs" fill="#000">time now</text>
<text x="1626.96" y="479.00" font-size="24.52" textLength="123.67" lengthAdjust="spacingAndGlyphs" fill="#262626">UT Time /h</text>
<text transform="translate(1411.00,264.20) rotate(-90)" x="-112.23" y="0" font-size="17.83" textLength="224.46" lengthAdjust="spacingAndGlyphs" fill="#0000ff">X Mean Magnetic Field / nT</text>
<text transform="translate(1966.10,264.20) rotate(-90)" x="-101.34" y="0" font-size="17.83" textLength="202.69" lengthAdjust="spacingAndGlyphs" fill="#262626">Rate of Change / nT/min</text>
<text x="1464.60" y="100.00" font-size="13.38" textLength="253.74" lengthAdjust="spacingAndGlyphs" fill="#000">File Updated:26-Sep-2025 02:49:02 UTC</text>
<text x="1779.30" y="106.80" font-size="15.60" textLength="130.26" lengthAdjust="spacingAndGlyphs" fill="#000">minute resolution</text>
<text x="1644.59" y="62.00" font-size="26.75" textLength="105.82" lengthAdjust="spacingAndGlyphs" fill="#000">Dunedin</text>
<rect x="276.00" y="537.00" width="111.50" height="310.00" fill="#e6e6e6"/>
<rect x="633.08" y="537.00" width="93.62" height="310.00" fill="#e6e6e6"/>
<rect x="275.00" y="692.00" width="452.50" height="1.00" fill="#000" shape-rendering="crispEdges"/>
<rect x="275.00" y="537.00" width="1.00" height="311.00" fill="#262626" shape-rendering="crispEdges"/>
<rect x="275.00" y="847.00" width="453.00" height="1.00" fill="#262626" shape-rendering="crispEdges"/>
<rect x="275.00" y="843.00" width="1.00" height="4.00" fill="#262626" shape-rendering="crispEdges"/>
<text x="267.77" y="877.40" font-size="22.29" textLength="13.25" lengthAdjust="spacingAndGlyphs" fill="#262626">0</text>
<rect x="293.00" y="843.00" width="1.00" height="4.00" fill="#262626" shape-rendering="crispEdges"/>
<rect x="312.00" y="843.00" width="1.00" height="4.00" fill="#262626" shape-rendering="crispEdges"/>
<rect x="331.00" y="843.00" width="1.00" height="4.00" fill="#262626" shape-rendering="crispEdges"/>
<text x="324.27" y="877.40" font-size="22.29" textLength="13.25" lengthAdjust="spacingAndGlyphs" fill="#262626">3</text>
<rect x="350.00" y="843.00" width="1.00" height="4.00" fill="#262626" shape-rendering="crispEdges"/>
<rect x="369.00" y="843.00" width="1.00" height="4.00" fill="#262626" shape-rendering="crispEdges"/>
<rect x="388.00" y="843.00" width="1.00" height="4.00" fill="#262626" shape-rendering="crispEdges"/>
<text x="380.77" y="877.40" font-size="22.29" textLength="13.25" lengthAdjust="spacingAndGlyphs" fill="#262626">6</text>
<rect x="406.00" y="843.00" width="1.00" height="4.00" fill="#262626" shape-rendering="crispEdges"/>
<rect x="425.00" y="843.00" width="1.00" height="4.00" fill="#262626" shape-rendering="crispEdges"/>
<rect x="444.00" y="843.00" width="1.00" height="4.00" fill="#262626" shape-rendering="crispEdges"/>
<text x="437.27" y="877.40" font-size="22.29" textLength="13.25" lengthAdjust="spacingAndGlyphs" fill="#262626">9</text>
<rect x="463.00" y="843.00" width="1.00" height="4.00" fill="#262626" shape-rendering="crispEdges"/>
<rect x="482.00" y="843.00" width="1.00" height="4.00" fill="#262626" shape-rendering="crispEdges"/>
<rect x="501.00" y="843.00" width="1.00" height="4.00" fill="#262626" shape-rendering="crispEdges"/>
<text x="487.15" y="877.40" font-size="22.29" textLength="26.51" lengthAdjust="spacingAndGlyphs" fill="#262626">12</text>
<rect x="519.00" y="843.00" width="1.00" height="4.00" fill="#262626" shape-rendering="crispEdges"/>
<rect x="538.00" y="843.00" width="1.00" height="4.00" fill="#262626" shape-rendering="crispEdges"/>
<rect x="557.00" y="843.00" width="1.00" height="4.00" fill="#262626" shape-rendering="crispEdges"/>
<text x="543.65" y="877.40" font-size="22.29" textLength="26.51" lengthAdjust="spacingAndGlyphs" fill="#262626">15</text>
<rect x="576.00" y="843.00" width="1.00" height="4.00" fill="#262626" shape-rendering="crispEdges"/>
<rect x="595.00" y="843.00" width="1.00" height="4.00" fill="#262626" shape-rendering="crispEdges"/>
<rect x="614.00" y="843.00" width="1.00" height="4.00" fill="#262626" shape-rendering="crispEdges"/>
<text x="600.15" y="877.40" font-size="22.29" textLength="26.51" lengthAdjust="spacingAndGlyphs" fill="#262626">18</text>
<rect x="632.00" y="843.00" width="1.00" height="4.00" fill="#262626" shape-rendering="crispEdges"/>
<rect x="651.00" y="843.00" width="1.00" height="4.00" fill="#262626" shape-rendering="crispEdges"/>
<rect x="670.00" y="843.00" width="1.00" height="4.00" fill="#262626" shape-rendering="crispEdges"/>
<text x="656.65" y="877.40" font-size="22.29" textLength="26.51" lengthAdjust="spacingAndGlyphs" fill="#262626">21</text>
<rect x="689.00" y="843.00" width="1.00" height="4.00" fill="#262626" shape-rendering="crispEdges"/>
<rect x="708.00" y="843.00" width="1.00" height="4.00" fill="#262626" shape-rendering="crispEdges"/>
<rect x="727.00" y="843.00" width="1.00" height="4.00" fill="#262626" shape-rendering="crispEdges"/>
<text x="713.15" y="877.40" font-size="22.29" textLength="26.51" lengthAdjust="spacingAndGlyphs" fill="#262626">24</text>
<rect x="276.00" y="537.00" width="4.00" height="1.00" fill="#262626"/>
<rect x="276.00" y="614.00" width="4.00" height="1.00" fill="#262626"/>
<rect x="276.00" y="692.00" width="4.00" height="1.00" fill="#262626"/>
<rect x="276.00" y="769.00" width="4.00" height="1.00" fill="#262626"/>
<rect x="276.00" y="847.00" width="4.00" height="1.00" fill="#262626"/>
<rect x="326.97" y="567.00" width="3.00" height="280.00" fill="#00ffff"/>
<rect x="322.15" y="532.85" width="110.1" height="39.55" fill="#fff" stroke="#00ffff" stroke-width="1.3"/>
<text x="328.40" y="559.60" font-size="22.29" textLength="96.10" lengthAdjust="spacingAndGlyphs" fill="#000">time now</text>
<text x="736.00" y="606.20" font-size="17.83" textLength="105.92" lengthAdjust="spacingAndGlyphs" fill="#262626" font-weight="bold">dB/dT Alert</text>
<text x="736.00" y="761.00" font-size="17.83" textLength="64.61" lengthAdjust="spacingAndGlyphs" fill="#0000ff" font-weight="bold">B Alert</text>
<rect x="869.00" y="537.00" width="112.27" height="310.00" fill="#e6e6e6"/>
<rect x="1227.33" y="537.00" width="93.37" height="310.00" fill="#e6e6e6"/>
<rect x="868.00" y="692.00" width="453.50" height="1.00" fill="#000" shape-rendering="crispEdges"/>
<rect x="868.00" y="537.00" width="1.00" height="311.00" fill="#262626" shape-rendering="crispEdges"/>
<rect x="868.00" y="847.00" width="454.00" height="1.00" fill="#262626" shape-rendering="crispEdges"/>
<rect x="868.00" y="843.00" width="1.00" height="4.00" fill="#262626" shape-rendering="crispEdges"/>
<text x="861.32" y="877.40" font-size="22.29" textLength="13.25" lengthAdjust="spacingAndGlyphs" fill="#262626">0</text>
<rect x="887.00" y="843.00" width="1.00" height="4.00" fill="#262626" shape-rendering="crispEdges"/>
<rect x="906.00" y="843.00" width="1.00" height="4.00" fill="#262626" shape-rendering="crispEdges"/>
<rect x="925.00" y="843.00" width="1.00" height="4.00" fill="#262626" shape-rendering="crispEdges"/>
<text x="917.93" y="877.40" font-size="22.29" textLength="13.25" lengthAdjust="spacingAndGlyphs" fill="#262626">3</text>
<rect x="944.00" y="843.00" width="1.00" height="4.00" fill="#262626" shape-rendering="crispEdges"/>
<rect x="962.00" y="843.00" width="1.00" height="4.00" fill="#262626" shape-rendering="crispEdges"/>
<rect x="981.00" y="843.00" width="1.00" height="4.00" fill="#262626" shape-rendering="crispEdges"/>
<text x="974.54" y="877.40" font-size="22.29" textLength="13.25" lengthAdjust="spacingAndGlyphs" fill="#262626">6</text>
<rect x="1000.00" y="843.00" width="1.00" height="4.00" fill="#262626" shape-rendering="crispEdges"/>
<rect x="1019.00" y="843.00" width="1.00" height="4.00" fill="#262626" shape-rendering="crispEdges"/>
<rect x="1038.00" y="843.00" width="1.00" height="4.00" fill="#262626" shape-rendering="crispEdges"/>
<text x="1031.15" y="877.40" font-size="22.29" textLength="13.25" lengthAdjust="spacingAndGlyphs" fill="#262626">9</text>
<rect x="1057.00" y="843.00" width="1.00" height="4.00" fill="#262626" shape-rendering="crispEdges"/>
<rect x="1076.00" y="843.00" width="1.00" height="4.00" fill="#262626" shape-rendering="crispEdges"/>
<rect x="1094.00" y="843.00" width="1.00" height="4.00" fill="#262626" shape-rendering="crispEdges"/>
<text x="1081.14" y="877.40" font-size="22.29" textLength="26.51" lengthAdjust="spacingAndGlyphs" fill="#262626">12</text>
<rect x="1113.00" y="843.00" width="1.00" height="4.00" fill="#262626" shape-rendering="crispEdges"/>
<rect x="1132.00" y="843.00" width="1.00" height="4.00" fill="#262626" shape-rendering="crispEdges"/>
<rect x="1151.00" y="843.00" width="1.00" height="4.00" fill="#262626" shape-rendering="crispEdges"/>
<text x="1137.75" y="877.40" font-size="22.29" textLength="26.51" lengthAdjust="spacingAndGlyphs" fill="#262626">15</text>
<rect x="1170.00" y="843.00" width="1.00" height="4.00" fill="#262626" shape-rendering="crispEdges"/>
<rect x="1189.00" y="843.00" width="1.00" height="4.00" fill="#262626" shape-rendering="crispEdges"/>
<rect x="1208.00" y="843.00" width="1.00" height="4.00" fill="#262626" shape-rendering="crispEdges"/>
<text x="1194.36" y="877.40" font-size="22.29" textLength="26.51" lengthAdjust="spacingAndGlyphs" fill="#262626">18</text>
<rect x="1227.00" y="843.00" width="1.00" height="4.00" fill="#262626" shape-rendering="crispEdges"/>
<rect x="1245.00" y="843.00" width="1.00" height="4.00" fill="#262626" shape-rendering="crispEdges"/>
<rect x="1264.00" y="843.00" width="1.00" height="4.00" fill="#262626" shape-rendering="crispEdges"/>
<text x="1250.97" y="877.40" font-size="22.29" textLength="26.51" lengthAdjust="spacingAndGlyphs" fill="#262626">21</text>
<rect x="1283.00" y="843.00" width="1.00" height="4.00" fill="#262626" shape-rendering="crispEdges"/>
<rect x="1302.00" y="843.00" width="1.00" height="4.00" fill="#262626" shape-rendering="crispEdges"/>
<rect x="1321.00" y="843.00" width="1.00" height="4.00" fill="#262626" shape-rendering="crispEdges"/>
<text x="1307.58" y="877.40" font-size="22.29" textLength="26.51" lengthAdjust="spacingAndGlyphs" fill="#262626">24</text>
<rect x="869.00" y="537.00" width="4.00" height="1.00" fill="#262626"/>
<rect x="869.00" y="614.00" width="4.00" height="1.00" fill="#262626"/>
<rect x="869.00" y="692.00" width="4.00" height="1.00" fill="#262626"/>
<rect x="869.00" y="769.00" width="4.00" height="1.00" fill="#262626"/>
<rect x="869.00" y="847.00" width="4.00" height="1.00" fill="#262626"/>
<rect x="921.00" y="567.00" width="3.00" height="280.00" fill="#00ffff"/>
<rect x="916.05" y="532.85" width="110.1" height="39.55" fill="#fff" stroke="#00ffff" stroke-width="1.3"/>
<text x="922.30" y="559.60" font-size="22.29" textLength="96.10" lengthAdjust="spacingAndGlyphs" fill="#000">time now</text>
<text x="1330.00" y="606.20" font-size="17.83" textLength="105.92" lengthAdjust="spacingAndGlyphs" fill="#262626" font-weight="bold">dB/dT Alert</text>
<text x="1330.00" y="761.00" font-size="17.83" textLength="64.61" lengthAdjust="spacingAndGlyphs" fill="#0000ff" font-weight="bold">B Alert</text>
<rect x="1465.00" y="537.00" width="111.85" height="310.00" fill="#e6e6e6"/>
<rect x="1821.35" y="537.00" width="92.35" height="310.00" fill="#e6e6e6"/>
<rect x="1464.00" y="692.00" width="450.50" height="1.00" fill="#000" shape-rendering="crispEdges"/>
<rect x="1464.00" y="537.00" width="1.00" height="311.00" fill="#262626" shape-rendering="crispEdges"/>
<rect x="1464.00" y="847.00" width="451.00" height="1.00" fill="#262626" shape-rendering="crispEdges"/>
<rect x="1464.00" y="843.00" width="1.00" height="4.00" fill="#262626" shape-rendering="crispEdges"/>
<text x="1457.62" y="877.40" font-size="22.29" textLength="13.25" lengthAdjust="spacingAndGlyphs" fill="#262626">0</text>
<rect x="1483.00" y="843.00" width="1.00" height="4.00" fill="#262626" shape-rendering="crispEdges"/>
<rect x="1502.00" y="843.00" width="1.00" height="4.00" fill="#262626" shape-rendering="crispEdges"/>
<rect x="1521.00" y="843.00" width="1.00" height="4.00" fill="#262626" shape-rendering="crispEdges"/>
<text x="1513.87" y="877.40" font-size="22.29" textLength="13.25" lengthAdjust="spacingAndGlyphs" fill="#262626">3</text>
<rect x="1539.00" y="843.00" width="1.00" height="4.00" fill="#262626" shape-rendering="crispEdges"/>
<rect x="1558.00" y="843.00" width="1.00" height="4.00" fill="#262626" shape-rendering="crispEdges"/>
<rect x="1577.00" y="843.00" width="1.00" height="4.00" fill="#262626" shape-rendering="crispEdges"/>
<text x="1570.12" y="877.40" font-size="22.29" textLength="13.25" lengthAdjust="spacingAndGlyphs" fill="#262626">6</text>
<rect x="1596.00" y="843.00" width="1.00" height="4.00" fill="#262626" shape-rendering="crispEdges"/>
<rect x="1614.00" y="843.00" width="1.00" height="4.00" fill="#262626" shape-rendering="crispEdges"/>
<rect x="1633.00" y="843.00" width="1.00" height="4.00" fill="#262626" shape-rendering="crispEdges"/>
<text x="1626.37" y="877.40" font-size="22.29" textLength="13.25" lengthAdjust="spacingAndGlyphs" fill="#262626">9</text>
<rect x="1652.00" y="843.00" width="1.00" height="4.00" fill="#262626" shape-rendering="crispEdges"/>
<rect x="1671.00" y="843.00" width="1.00" height="4.00" fill="#262626" shape-rendering="crispEdges"/>
<rect x="1689.00" y="843.00" width="1.00" height="4.00" fill="#262626" shape-rendering="crispEdges"/>
<text x="1676.00" y="877.40" font-size="22.29" textLength="26.51" lengthAdjust="spacingAndGlyphs" fill="#262626">12</text>
<rect x="1708.00" y="843.00" width="1.00" height="4.00" fill="#262626" shape-rendering="crispEdges"/>
<rect x="1727.00" y="843.00" width="1.00" height="4.00" fill="#262626" shape-rendering="crispEdges"/>
<rect x="1746.00" y="843.00" width="1.00" height="4.00" fill="#262626" shape-rendering="crispEdges"/>
<text x="1732.25" y="877.40" font-size="22.29" textLength="26.51" lengthAdjust="spacingAndGlyphs" fill="#262626">15</text>
<rect x="1764.00" y="843.00" width="1.00" height="4.00" fill="#262626" shape-rendering="crispEdges"/>
<rect x="1783.00" y="843.00" width="1.00" height="4.00" fill="#262626" shape-rendering="crispEdges"/>
<rect x="1802.00" y="843.00" width="1.00" height="4.00" fill="#262626" shape-rendering="crispEdges"/>
<text x="1788.50" y="877.40" font-size="22.29" textLength="26.51" lengthAdjust="spacingAndGlyphs" fill="#262626">18</text>
<rect x="1821.00" y="843.00" width="1.00" height="4.00" fill="#262626" shape-rendering="crispEdges"/>
<rect x="1839.00" y="843.00" width="1.00" height="4.00" fill="#262626" shape-rendering="crispEdges"/>
<rect x="1858.00" y="843.00" width="1.00" height="4.00" fill="#262626" shape-rendering="crispEdges"/>
<text x="1844.75" y="877.40" font-size="22.29" textLength="26.51" lengthAdjust="spacingAndGlyphs" fill="#262626">21</text>
<rect x="1877.00" y="843.00" width="1.00" height="4.00" fill="#262626" shape-rendering="crispEdges"/>
<rect x="1896.00" y="843.00" width="1.00" height="4.00" fill="#262626" shape-rendering="crispEdges"/>
<rect x="1914.00" y="843.00" width="1.00" height="4.00" fill="#262626" shape-rendering="crispEdges"/>
<text x="1901.00" y="877.40" font-size="22.29" textLength="26.51" lengthAdjust="spacingAndGlyphs" fill="#262626">24</text>
<rect x="1465.00" y="537.00" width="4.00" height="1.00" fill="#262626"/>
<rect x="1465.00" y="614.00" width="4.00" height="1.00" fill="#262626"/>
<rect x="1465.00" y="692.00" width="4.00" height="1.00" fill="#262626"/>
<rect x="1465.00" y="769.00" width="4.00" height="1.00" fill="#262626"/>
<rect x="1465.00" y="847.00" width="4.00" height="1.00" fill="#262626"/>
<rect x="1516.40" y="567.00" width="3.00" height="280.00" fill="#00ffff"/>
<rect x="1511.95" y="532.85" width="110.1" height="39.55" fill="#fff" stroke="#00ffff" stroke-width="1.3"/>
<text x="1518.20" y="559.60" font-size="22.29" textLength="96.10" lengthAdjust="spacingAndGlyphs" fill="#000">time now</text>
<rect x="268.00" y="881.70" width="159.80" height="40.20" fill="#00ff00"/>
<rect x="432.30" y="881.70" width="197.00" height="40.20" fill="#ffff00"/>
<rect x="629.20" y="881.70" width="165.50" height="40.20" fill="#ff0000"/>
<text x="274.20" y="908.80" font-size="22.29" textLength="144.01" lengthAdjust="spacingAndGlyphs" fill="#000">minor activity</text>
<text x="438.30" y="908.80" font-size="22.29" textLength="184.82" lengthAdjust="spacingAndGlyphs" fill="#000">moderate activity</text>
<text x="635.80" y="908.80" font-size="22.29" textLength="149.72" lengthAdjust="spacingAndGlyphs" fill="#000">strong activity</text>
<text x="1258.20" y="909.00" font-size="22.29" textLength="180.56" lengthAdjust="spacingAndGlyphs" fill="#000">Current Warning:</text>
<text x="1455.50" y="911.60" font-size="33.44" textLength="80.11" lengthAdjust="spacingAndGlyphs" fill="#000">0.0/9</text>
<rect x="276.00" y="935.00" width="408.54" height="331.00" fill="#e6e6e6"/>
<rect x="1573.06" y="935.00" width="340.94" height="331.00" fill="#e6e6e6"/>
<rect x="275.00" y="935.00" width="1.00" height="332.00" fill="#262626" shape-rendering="crispEdges"/>
<rect x="275.00" y="1266.00" width="1640.00" height="1.00" fill="#262626" shape-rendering="crispEdges"/>
<rect x="275.00" y="1250.00" width="1.00" height="16.00" fill="#262626" shape-rendering="crispEdges"/>
<text x="267.97" y="1295.40" font-size="22.29" textLength="13.25" lengthAdjust="spacingAndGlyphs" fill="#262626">0</text>
<rect x="343.00" y="1250.00" width="1.00" height="16.00" fill="#262626" shape-rendering="crispEdges"/>
<text x="336.26" y="1295.40" font-size="22.29" textLength="13.25" lengthAdjust="spacingAndGlyphs" fill="#262626">1</text>
<rect x="411.00" y="1250.00" width="1.00" height="16.00" fill="#262626" shape-rendering="crispEdges"/>
<text x="404.55" y="1295.40" font-size="22.29" textLength="13.25" lengthAdjust="spacingAndGlyphs" fill="#262626">2</text>
<rect x="480.00" y="1250.00" width="1.00" height="16.00" fill="#262626" shape-rendering="crispEdges"/>
<text x="472.84" y="1295.40" font-size="22.29" textLength="13.25" lengthAdjust="spacingAndGlyphs" fill="#262626">3</text>
<rect x="548.00" y="1250.00" width="1.00" height="16.00" fill="#262626" shape-rendering="crispEdges"/>
<text x="541.13" y="1295.40" font-size="22.29" textLength="13.25" lengthAdjust="spacingAndGlyphs" fill="#262626">4</text>
<rect x="616.00" y="1250.00" width="1.00" height="16.00" fill="#262626" shape-rendering="crispEdges"/>
<text x="609.42" y="1295.40" font-size="22.29" textLength="13.25" lengthAdjust="spacingAndGlyphs" fill="#262626">5</text>
<rect x="685.00" y="1250.00" width="1.00" height="16.00" fill="#262626" shape-rendering="crispEdges"/>
<text x="677.71" y="1295.40" font-size="22.29" textLength="13.25" lengthAdjust="spacingAndGlyphs" fill="#262626">6</text>
<rect x="753.00" y="1250.00" width="1.00" height="16.00" fill="#262626" shape-rendering="crispEdges"/>
<text x="746.00" y="1295.40" font-size="22.29" textLength="13.25" lengthAdjust="spacingAndGlyphs" fill="#262626">7</text>
<rect x="821.00" y="1250.00" width="1.00" height="16.00" fill="#262626" shape-rendering="crispEdges"/>
<text x="814.29" y="1295.40" font-size="22.29" textLength="13.25" lengthAdjust="spacingAndGlyphs" fill="#262626">8</text>
<rect x="889.00" y="1250.00" width="1.00" height="16.00" fill="#262626" shape-rendering="crispEdges"/>
<text x="882.58" y="1295.40" font-size="22.29" textLength="13.25" lengthAdjust="spacingAndGlyphs" fill="#262626">9</text>
<rect x="958.00" y="1250.00" width="1.00" height="16.00" fill="#262626" shape-rendering="crispEdges"/>
<text x="944.25" y="1295.40" font-size="22.29" textLength="26.51" lengthAdjust="spacingAndGlyphs" fill="#262626">10</text>
<rect x="1026.00" y="1250.00" width="1.00" height="16.00" fill="#262626" shape-rendering="crispEdges"/>
<text x="1012.54" y="1295.40" font-size="22.29" textLength="26.51" lengthAdjust="spacingAndGlyphs" fill="#262626">11</text>
<rect x="1094.00" y="1250.00" width="1.00" height="16.00" fill="#262626" shape-rendering="crispEdges"/>
<text x="1080.83" y="1295.40" font-size="22.29" textLength="26.51" lengthAdjust="spacingAndGlyphs" fill="#262626">12</text>
<rect x="1163.00" y="1250.00" width="1.00" height="16.00" fill="#262626" shape-rendering="crispEdges"/>
<text x="1149.12" y="1295.40" font-size="22.29" textLength="26.51" lengthAdjust="spacingAndGlyphs" fill="#262626">13</text>
<rect x="1231.00" y="1250.00" width="1.00" height="16.00" fill="#262626" shape-rendering="crispEdges"/>
<text x="1217.41" y="1295.40" font-size="22.29" textLength="26.51" lengthAdjust="spacingAndGlyphs" fill="#262626">14</text>
<rect x="1299.00" y="1250.00" width="1.00" height="16.00" fill="#262626" shape-rendering="crispEdges"/>
<text x="1285.70" y="1295.40" font-size="22.29" textLength="26.51" lengthAdjust="spacingAndGlyphs" fill="#262626">15</text>
<rect x="1367.00" y="1250.00" width="1.00" height="16.00" fill="#262626" shape-rendering="crispEdges"/>
<text x="1353.99" y="1295.40" font-size="22.29" textLength="26.51" lengthAdjust="spacingAndGlyphs" fill="#262626">16</text>
<rect x="1436.00" y="1250.00" width="1.00" height="16.00" fill="#262626" shape-rendering="crispEdges"/>
<text x="1422.28" y="1295.40" font-size="22.29" textLength="26.51" lengthAdjust="spacingAndGlyphs" fill="#262626">17</text>
<rect x="1504.00" y="1250.00" width="1.00" height="16.00" fill="#262626" shape-rendering="crispEdges"/>
<text x="1490.57" y="1295.40" font-size="22.29" textLength="26.51" lengthAdjust="spacingAndGlyphs" fill="#262626">18</text>
<rect x="1572.00" y="1250.00" width="1.00" height="16.00" fill="#262626" shape-rendering="crispEdges"/>
<text x="1558.86" y="1295.40" font-size="22.29" textLength="26.51" lengthAdjust="spacingAndGlyphs" fill="#262626">19</text>
<rect x="1641.00" y="1250.00" width="1.00" height="16.00" fill="#262626" shape-rendering="crispEdges"/>
<text x="1627.15" y="1295.40" font-size="22.29" textLength="26.51" lengthAdjust="spacingAndGlyphs" fill="#262626">20</text>
<rect x="1709.00" y="1250.00" width="1.00" height="16.00" fill="#262626" shape-rendering="crispEdges"/>
<text x="1695.44" y="1295.40" font-size="22.29" textLength="26.51" lengthAdjust="spacingAndGlyphs" fill="#262626">21</text>
<rect x="1777.00" y="1250.00" width="1.00" height="16.00" fill="#262626" shape-rendering="crispEdges"/>
<text x="1763.73" y="1295.40" font-size="22.29" textLength="26.51" lengthAdjust="spacingAndGlyphs" fill="#262626">22</text>
<rect x="1845.00" y="1250.00" width="1.00" height="16.00" fill="#262626" shape-rendering="crispEdges"/>
<text x="1832.02" y="1295.40" font-size="22.29" textLength="26.51" lengthAdjust="spacingAndGlyphs" fill="#262626">23</text>
<rect x="1914.00" y="1250.00" width="1.00" height="16.00" fill="#262626" shape-rendering="crispEdges"/>
<rect x="276.00" y="1266.00" width="16.00" height="1.00" fill="#262626" shape-rendering="crispEdges"/>
<text x="252.55" y="1273.70" font-size="22.29" textLength="13.25" lengthAdjust="spacingAndGlyphs" fill="#262626">0</text>
<rect x="276.00" y="1192.00" width="16.00" height="1.00" fill="#262626" shape-rendering="crispEdges"/>
<text x="252.55" y="1199.70" font-size="22.29" textLength="13.25" lengthAdjust="spacingAndGlyphs" fill="#262626">2</text>
<rect x="276.00" y="1119.00" width="16.00" height="1.00" fill="#262626" shape-rendering="crispEdges"/>
<text x="252.55" y="1126.70" font-size="22.29" textLength="13.25" lengthAdjust="spacingAndGlyphs" fill="#262626">4</text>
<rect x="276.00" y="1045.00" width="16.00" height="1.00" fill="#262626" shape-rendering="crispEdges"/>
<text x="252.55" y="1052.70" font-size="22.29" textLength="13.25" lengthAdjust="spacingAndGlyphs" fill="#262626">6</text>
<rect x="276.00" y="971.00" width="16.00" height="1.00" fill="#262626" shape-rendering="crispEdges"/>
<text x="252.55" y="978.70" font-size="22.29" textLength="13.25" lengthAdjust="spacingAndGlyphs" fill="#262626">8</text>
<rect x="467.00" y="965.00" width="3.00" height="301.00" fill="#00ffff"/>
<rect x="462.40" y="933.51" width="110.15" height="39.95" fill="#fff" stroke="#00ffff" stroke-width="1.3"/>
<text x="468.75" y="960.70" font-size="22.29" textLength="96.10" lengthAdjust="spacingAndGlyphs" fill="#000">time now</text>
<text x="1021.56" y="1327.20" font-size="24.52" textLength="146.49" lengthAdjust="spacingAndGlyphs" fill="#262626">Time UTC / h</text>
<text transform="translate(241.20,1101.00) rotate(-90)" x="-89.77" y="0" font-size="24.52" textLength="179.55" lengthAdjust="spacingAndGlyphs" fill="#262626">Warning Values</text>
<text x="848.60" y="1359.30" font-size="22.29" textLength="478.77" lengthAdjust="spacingAndGlyphs" fill="#000">Last updated: Fri 26 Sep 2025 14:50:35 NZST</text>
</svg>
</body></html>
